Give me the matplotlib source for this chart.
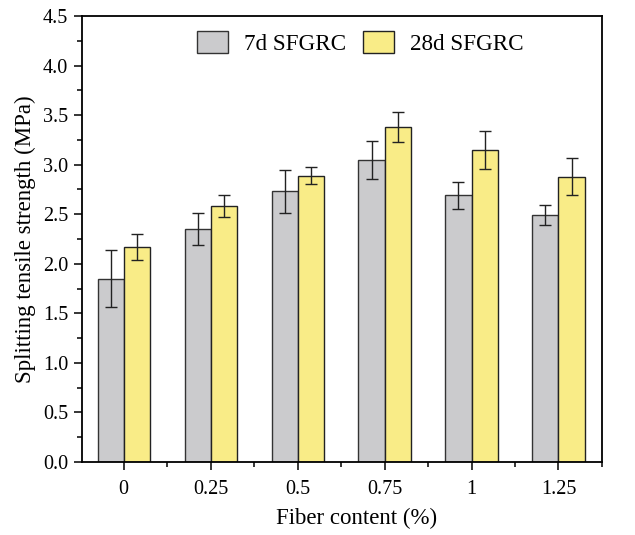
import numpy as np
import matplotlib
matplotlib.use('Agg')
import matplotlib.pyplot as plt
from matplotlib.ticker import MultipleLocator, AutoMinorLocator, FormatStrFormatter

# Data
fiber_content = ['0', '0.25', '0.5', '0.75', '1', '1.25']
strength_7d = [1.85, 2.35, 2.73, 3.05, 2.69, 2.49]
err_7d = [0.29, 0.16, 0.22, 0.19, 0.135, 0.10]
strength_28d = [2.17, 2.58, 2.89, 3.38, 3.15, 2.88]
err_28d = [0.13, 0.11, 0.085, 0.155, 0.195, 0.185]
series_labels = ['7d SFGRC', '28d SFGRC']

plt.rcParams['font.family'] = ['Liberation Serif', 'DejaVu Serif']

fig = plt.figure(figsize=(6.35, 5.35), dpi=100)
ax = fig.add_axes([0.129, 0.1364, 0.819, 0.8336])

x = np.arange(len(fiber_content))
width = 0.3
err_kw = dict(ecolor='#222222', elinewidth=1.0, capsize=4, capthick=1.0)

ax.bar(x - width / 2, strength_7d, width, yerr=err_7d, color='#CBCBCD',
       edgecolor='#333333', linewidth=1.0, label=series_labels[0], error_kw=err_kw)
ax.bar(x + width / 2, strength_28d, width, yerr=err_28d, color='#F9EC87',
       edgecolor='#222222', linewidth=1.0, label=series_labels[1], error_kw=err_kw)

ax.set_xlim(-0.48, 5.5)
ax.set_ylim(0, 4.5)
ax.set_xticks(x)
ax.set_xticklabels(fiber_content)
ax.xaxis.set_minor_locator(MultipleLocator(0.5))
ax.yaxis.set_major_locator(MultipleLocator(0.5))
ax.yaxis.set_minor_locator(AutoMinorLocator(2))
ax.yaxis.set_major_formatter(FormatStrFormatter('%.1f'))
ax.tick_params(which='both', direction='out', labelsize=14.5, width=1.1)
ax.tick_params(which='major', length=6, pad=4)
ax.tick_params(which='minor', length=3.5)
ax.tick_params(axis='x', which='major', pad=7)

for side in ['left', 'bottom', 'top', 'right']:
    ax.spines[side].set_linewidth(1.3)

ax.set_xlabel('Fiber content (%)', fontsize=16.5)
ax.xaxis.set_label_coords(0.529, -0.103)
ax.set_ylabel('Splitting tensile strength (MPa)', fontsize=16.5, labelpad=5)

ax.legend(loc='upper center', ncol=2, frameon=False, fontsize=16.7,
          handlelength=1.35, handleheight=1.1, columnspacing=0.7,
          handletextpad=0.7, bbox_to_anchor=(0.535, 1.014))

fig.savefig('out.png', dpi=100)
